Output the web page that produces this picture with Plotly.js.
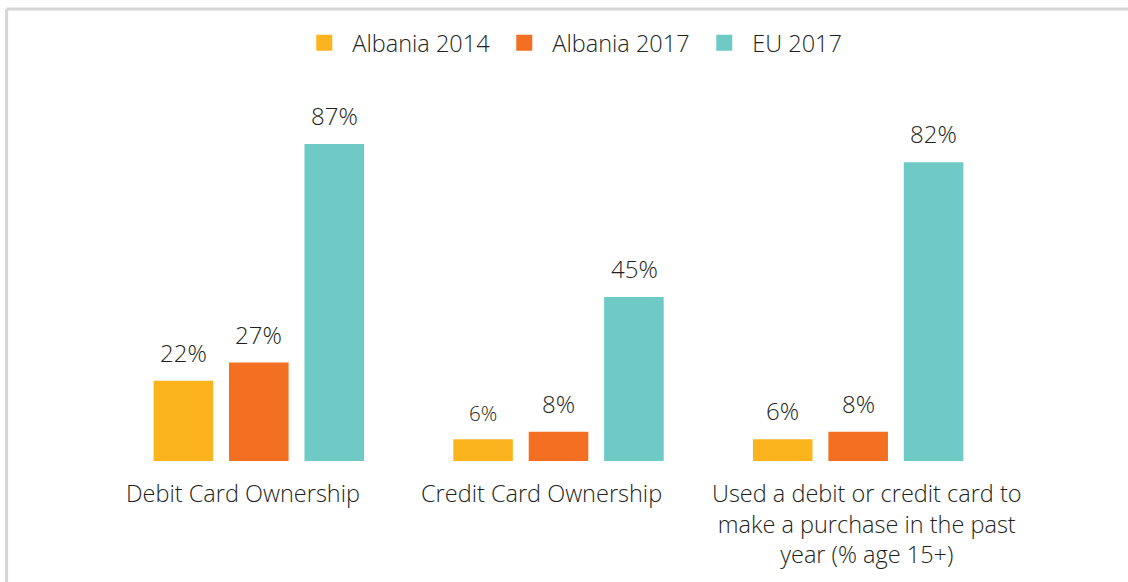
<!DOCTYPE html>
<html>
<head>
<meta charset="utf-8">
<script src="https://cdn.plot.ly/plotly-3.0.1.min.js"></script>
<style>
  html, body { margin: 0; padding: 0; background: #ffffff; }
  #chart { width: 1128px; height: 582px; }
</style>
</head>
<body>
<div id="chart"></div>
<script>
// ---- data ----
const categories = [
  'Debit Card Ownership',
  'Credit Card Ownership',
  'Used a debit or credit card to<br>make a purchase in the past<br>year (% age 15+)'
];
const seriesNames = ['Albania 2014', 'Albania 2017', 'EU 2017'];
const albania2014 = [22, 6, 6];
const albania2017 = [27, 8, 8];
const eu2017 = [87, 45, 82];

// ---- styles ----
const colors = ['#FBB41E', '#F37023', '#6FCAC5'];
const textColor = '#231F20';
const fontFamily = '"Open Sans", Lato, sans-serif';
const fontWeight = 300;
const labelShiftX = [-16, -17, 9];          // category label offsets (px)
const valueFontSizes = [[24, 20.5, 24], [24, 24, 24], [24, 24, 24]];
const slotPx = 75.5;

const seriesValues = [albania2014, albania2017, eu2017];

const traces = seriesValues.map((vals, s) => ({
  type: 'bar',
  name: seriesNames[s],
  x: categories,
  y: vals,
  showlegend: false,
  legendgroup: seriesNames[s],
  marker: { color: colors[s], line: { width: 0 } },
  hoverinfo: 'skip'
}));
// legend entries (larger square swatches)
seriesNames.forEach((n, s) => {
  traces.push({
    type: 'scatter', mode: 'markers',
    name: n, legendgroup: n,
    x: [null], y: [null],
    marker: { symbol: 'square', size: 16, color: colors[s] },
    hoverinfo: 'skip'
  });
});

const annotations = [];
seriesValues.forEach((vals, s) => {
  vals.forEach((v, i) => {
    annotations.push({
      xref: 'x', yref: 'y',
      x: categories[i], y: v,
      xshift: (s - 1) * slotPx,
      yshift: 10,
      yanchor: 'bottom', xanchor: 'center',
      showarrow: false,
      text: v + '%',
      font: { family: fontFamily, weight: fontWeight, size: valueFontSizes[s][i], color: textColor }
    });
  });
});
categories.forEach((c, i) => {
  annotations.push({
    xref: 'x', yref: 'y',
    x: c, y: 0,
    xshift: labelShiftX[i],
    yshift: -14,
    yanchor: 'top', xanchor: 'center', align: 'center',
    showarrow: false,
    text: c,
    font: { family: fontFamily, weight: fontWeight, size: 23.5, color: textColor }
  });
});

const plotL = 108.5, plotR = 1008.5, plotT = 60, plotB = 461;
const pw = plotR - plotL, ph = plotB - plotT;
const px2x = p => (p - plotL) / pw;
const py2y = p => (plotB - p) / ph;

const layout = {
  width: 1128, height: 582,
  margin: { l: plotL, r: 1128 - plotR, t: plotT, b: 582 - plotB, pad: 0, autoexpand: false },
  paper_bgcolor: '#ffffff', plot_bgcolor: '#ffffff',
  font: { family: fontFamily, color: textColor },
  barmode: 'group',
  bargap: 0.245,
  bargroupgap: 0.21,
  showlegend: true,
  legend: {
    orientation: 'h',
    x: px2x(296), xanchor: 'left',
    y: py2y(43), yanchor: 'middle',
    font: { family: fontFamily, weight: fontWeight, size: 23.5, color: textColor },
    itemwidth: 46,
    entrywidth: 139, entrywidthmode: 'pixels',
    itemsizing: 'trace',
    bgcolor: 'rgba(0,0,0,0)'
  },
  xaxis: {
    type: 'category',
    range: [-0.5, categories.length - 0.5],
    showticklabels: false, ticks: '', showline: false, showgrid: false, zeroline: false,
    fixedrange: true
  },
  yaxis: {
    range: [0, ph / 3.644],
    visible: false, showgrid: false, zeroline: false, fixedrange: true
  },
  shapes: [
    { type: 'line', xref: 'paper', yref: 'paper',
      x0: px2x(6), x1: px2x(1130), y0: py2y(9), y1: py2y(9),
      line: { color: '#D6D6D6', width: 3 } },
    { type: 'line', xref: 'paper', yref: 'paper',
      x0: px2x(6), x1: px2x(6), y0: py2y(9), y1: py2y(590),
      line: { color: '#D6D6D6', width: 3 } }
  ],
  annotations: annotations
};

Plotly.newPlot('chart', traces, layout, { displayModeBar: false, staticPlot: true });
</script>
</body>
</html>
